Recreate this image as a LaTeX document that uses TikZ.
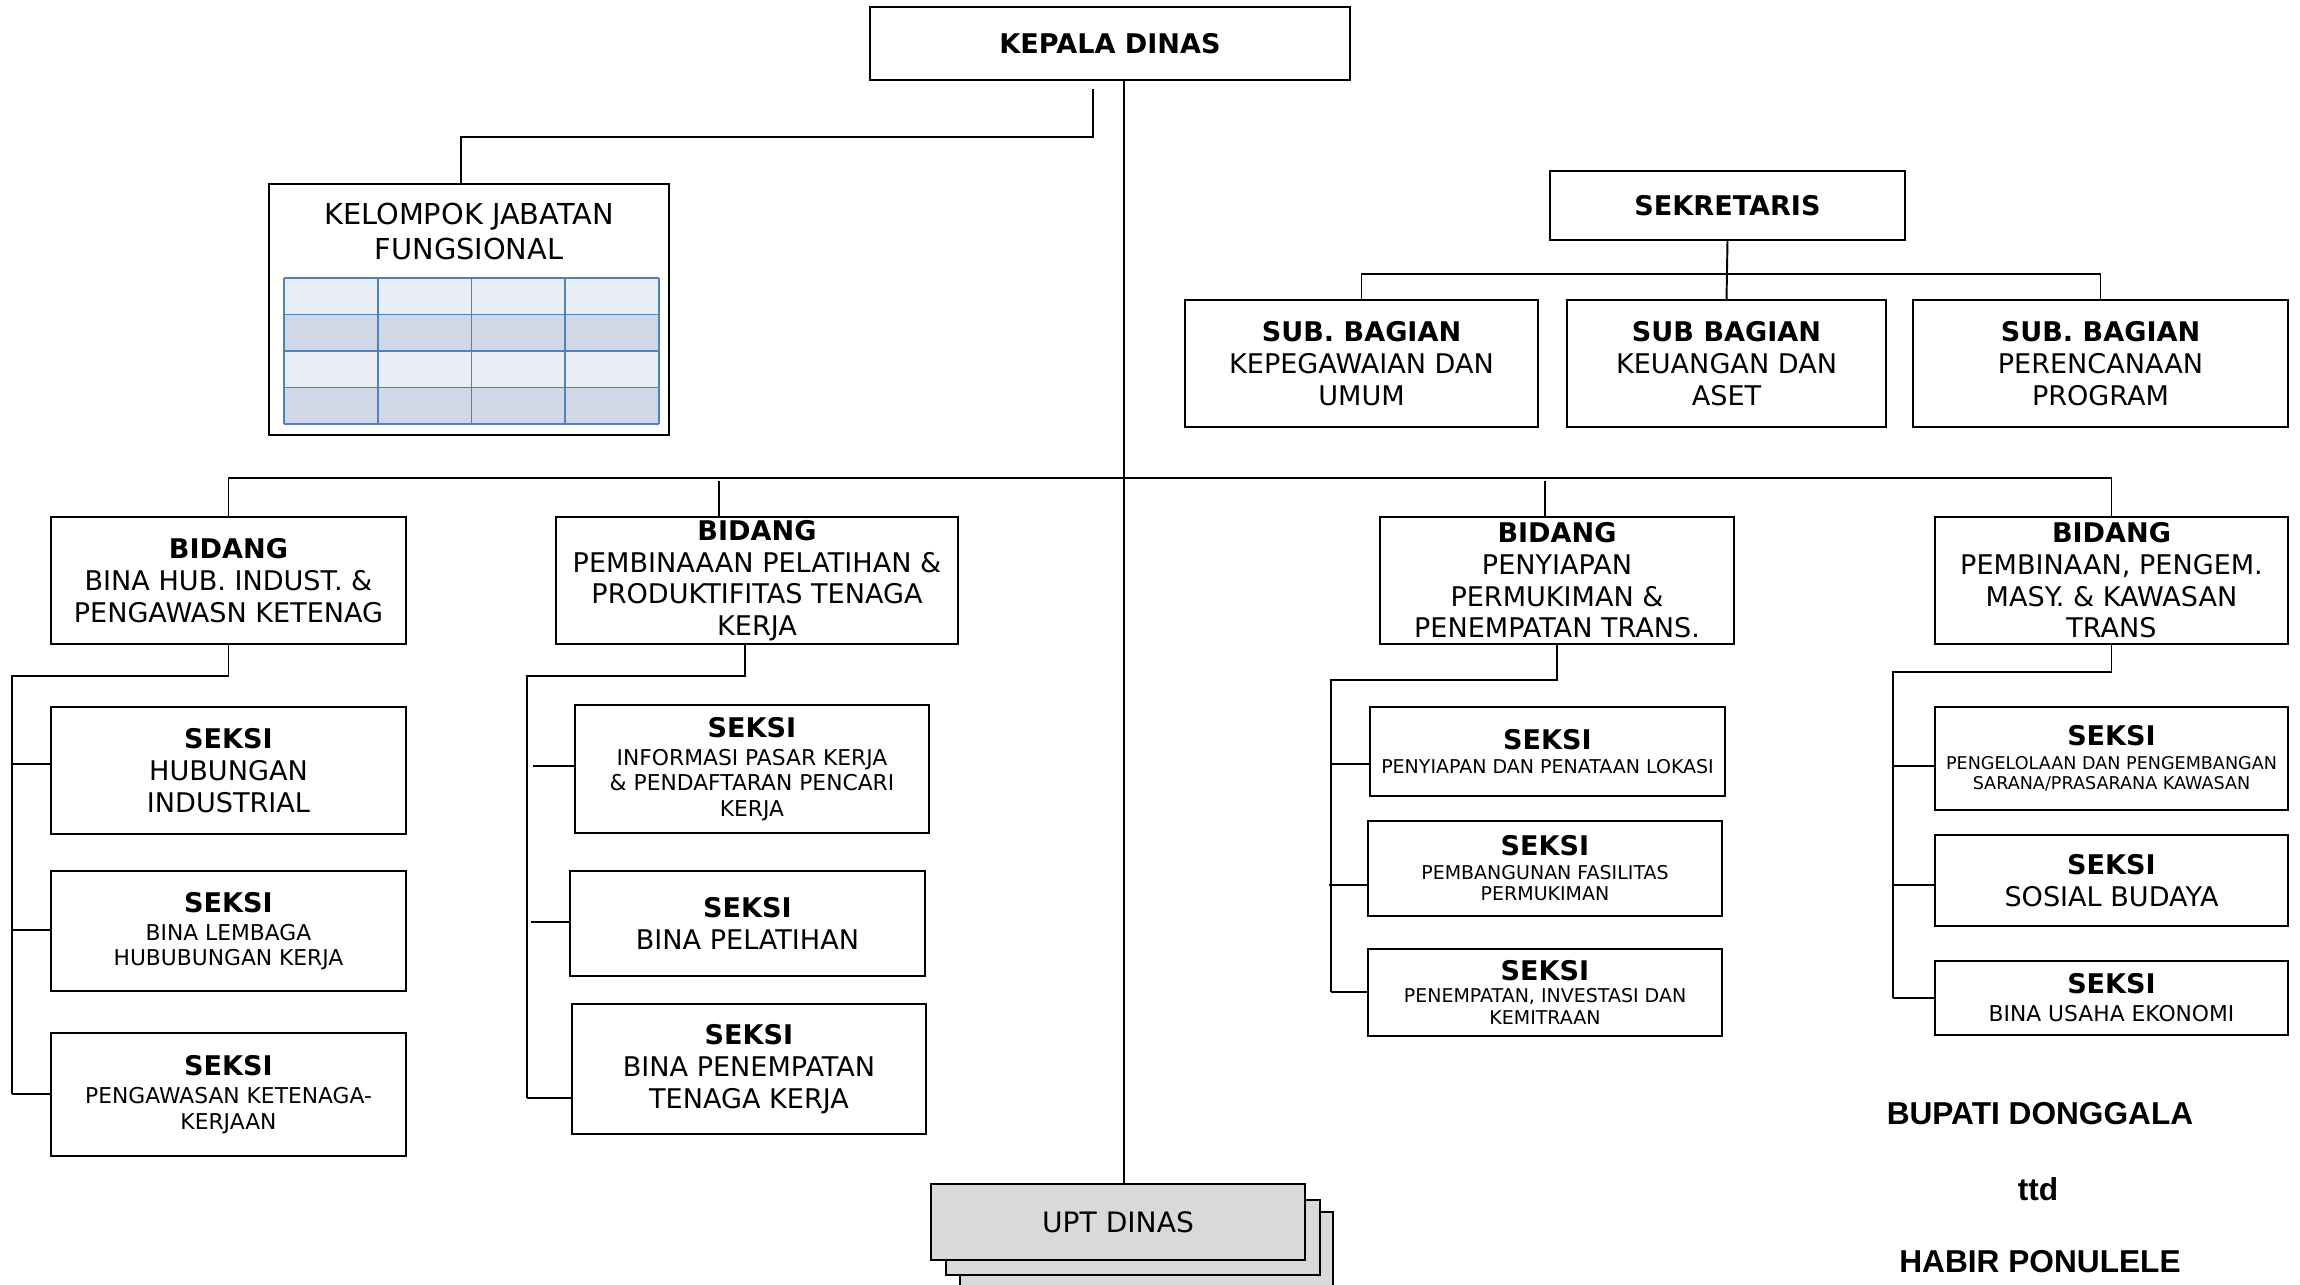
\documentclass[tikz,border=0pt]{standalone}
\usepackage{fontspec}
\setmainfont{DejaVu Sans}
\newfontfamily\myarial{Liberation Sans}
\newcommand\myfN{\fontsize{7.7}{9}\selectfont}
\newcommand\myfS{\fontsize{6.2}{7.2}\selectfont}
\newcommand\myfT{\fontsize{5.4}{6.1}\selectfont}
\newcommand\myfTT{\fontsize{5.0}{5.9}\selectfont}
\definecolor{tabA}{HTML}{E9EDF4}
\definecolor{tabB}{HTML}{D0D8E8}
\definecolor{tabline}{HTML}{4F81BD}
\definecolor{uptgray}{HTML}{D9D9D9}
% #1 options, #2 name, #3 left, #4 top, #5 right, #6 bottom, #7 text
\newcommand\obox[7][]{\node[box,#1,minimum width={(#5-#3)*0.01cm},minimum height={(#6-#4)*0.01cm}] (#2) at ({(#3+#5)/2},{(#4+#6)/2}) {#7};}
\begin{document}
\begin{tikzpicture}[x=0.01cm,y=-0.01cm,
  box/.style={draw, line width=0.7pt, inner sep=0pt, outer sep=0pt, align=center, font=\myfN},
  conn/.style={line width=0.55pt},
  sign/.style={font=\myarial\bfseries\fontsize{9}{11}\selectfont, anchor=base, inner sep=0pt}]
\useasboundingbox (0,0) rectangle (2300,1284);

% ---- top
\obox{kepala}{870}{7}{1350}{80}{\bfseries KEPALA DINAS}

\obox{kjf}{269}{184}{669}{435}{}
\node[font=\fontsize{8.2}{10}\selectfont, align=center, anchor=north, inner sep=0pt] (kjftext) at (469,202) {KELOMPOK JABATAN\\FUNGSIONAL};
% table inside kjf
\foreach \t/\b/\c in {278/314.5/tabA, 314.5/351/tabB, 351/387.5/tabA, 387.5/424/tabB}
  \fill[\c] (284,\t) rectangle (659,\b);
\foreach \yy in {278,314.5,351,387.5,424}
  \draw[tabline, line width=0.55pt] (284,\yy) -- (659,\yy);
\foreach \xx in {284,378,471.5,565,659}
  \draw[tabline, line width=0.55pt] (\xx,278) -- (\xx,424);

\obox{sek}{1550}{171}{1905}{240}{\bfseries SEKRETARIS}
\obox{sub1}{1185}{300}{1538}{427}{\textbf{SUB. BAGIAN}\\KEPEGAWAIAN DAN\\UMUM}
\obox{sub2}{1567}{300}{1886}{427}{\textbf{SUB BAGIAN}\\KEUANGAN DAN\\ASET}
\obox{sub3}{1913}{300}{2288}{427}{\textbf{SUB. BAGIAN}\\PERENCANAAN\\PROGRAM}

% ---- bidang
\obox{bid1}{51}{517}{406}{644}{\textbf{BIDANG}\\BINA HUB. INDUST. \&\\PENGAWASN KETENAG}
\obox{bid2}{556}{517}{958}{644}{\textbf{BIDANG}\\PEMBINAAAN PELATIHAN \&\\PRODUKTIFITAS TENAGA\\KERJA}
\obox{bid3}{1380}{517}{1734}{644}{\textbf{BIDANG}\\PENYIAPAN\\PERMUKIMAN \&\\PENEMPATAN TRANS.}
\obox{bid4}{1935}{517}{2288}{644}{\textbf{BIDANG}\\PEMBINAAN, PENGEM.\\MASY. \& KAWASAN\\TRANS}

% ---- seksi column 1
\obox{s11}{51}{707}{406}{834}{\textbf{SEKSI}\\HUBUNGAN\\INDUSTRIAL}
\obox[font=\myfS]{s12}{51}{871}{406}{991}{{\myfN\bfseries SEKSI}\\[0.8pt]BINA LEMBAGA\\HUBUBUNGAN KERJA}
\obox[font=\myfS]{s13}{51}{1033}{406}{1156}{{\myfN\bfseries SEKSI}\\[0.8pt]PENGAWASAN KETENAGA-\\KERJAAN}
% ---- seksi column 2
\obox[font=\myfS]{s21}{575}{705}{929}{833}{{\myfN\bfseries SEKSI}\\[0.7pt]INFORMASI PASAR KERJA\\\& PENDAFTARAN PENCARI\\KERJA}
\obox{s22}{570}{871}{925}{976}{\textbf{SEKSI}\\BINA PELATIHAN}
\obox{s23}{572}{1004}{926}{1134}{\textbf{SEKSI}\\BINA PENEMPATAN\\TENAGA KERJA}
% ---- seksi column 3
\obox[font=\myfT]{s31}{1370}{707}{1725}{796}{{\myfN\bfseries SEKSI}\\[0.8pt]PENYIAPAN DAN PENATAAN LOKASI}
\obox[font=\myfT]{s32}{1368}{821}{1722}{916}{{\myfN\bfseries SEKSI}\\[0.6pt]PEMBANGUNAN FASILITAS\\PERMUKIMAN}
\obox[font=\myfT]{s33}{1368}{949}{1722}{1036}{{\myfN\bfseries SEKSI}\\[0.2pt]PENEMPATAN, INVESTASI DAN\\KEMITRAAN}
% ---- seksi column 4
\obox[font=\myfTT]{s41}{1935}{707}{2288}{810}{{\myfN\bfseries SEKSI}\\[0.8pt]PENGELOLAAN DAN PENGEMBANGAN\\SARANA/PRASARANA KAWASAN}
\obox{s42}{1935}{835}{2288}{926}{\textbf{SEKSI}\\SOSIAL BUDAYA}
\obox[font=\myfS]{s43}{1935}{961}{2288}{1035}{{\myfN\bfseries SEKSI}\\[0.8pt]BINA USAHA EKONOMI}

% ---- UPT
\draw[fill=uptgray, line width=0.7pt] (960,1212) rectangle (1333,1300);
\draw[fill=uptgray, line width=0.7pt] (946,1200) rectangle (1320,1275);
\obox[fill=uptgray, font=\fontsize{8}{9.5}\selectfont]{upt}{931}{1184}{1305}{1260}{UPT DINAS}

% ---- signature
\node[sign] (bupati) at (2040,1124) {BUPATI DONGGALA};
\node[sign] (ttd) at (2038,1200) {ttd};
\node[sign] (habir) at (2040,1272) {HABIR PONULELE};

% ---- connectors
\coordinate (kjfsrc) at (1093,89);
\draw[conn] (kjfsrc) -- (1093,137) -- (461,137) -- (kjf.north -| 461,0);
\draw[conn] (kepala.south -| 1124,0) -- (upt.north -| 1124,0);

\draw[conn] (sek.south) -- (sub2.north);
\draw[conn] (sub1.north) -- (sub1.north |- 0,274) -- (sub3.north |- 0,274) -- (sub3.north);

\draw[conn] (bid1.north) -- (bid1.north |- 0,478) -- (bid4.north |- 0,478) -- (bid4.north);
\draw[conn] (719,481) -- (bid2.north -| 719,0);
\draw[conn] (1545,481) -- (bid3.north -| 1545,0);

% column 1
\draw[conn] (bid1.south) -- (bid1.south |- 0,676) -- (12,676) -- (12,1094);
\draw[conn] (12,764) -- (s11.west |- 0,764);
\draw[conn] (12,930) -- (s12.west |- 0,930);
\draw[conn] (12,1094) -- (s13.west |- 0,1094);
% column 2
\draw[conn] (bid2.south -| 745,0) -- (745,676) -- (527,676) -- (527,1098);
\draw[conn] (533,766) -- (s21.west |- 0,766);
\draw[conn] (531,922) -- (s22.west |- 0,922);
\draw[conn] (527,1098) -- (s23.west |- 0,1098);
% column 3
\draw[conn] (bid3.south) -- (bid3.south |- 0,680) -- (1331,680) -- (1331,992);
\draw[conn] (1331,764) -- (s31.west |- 0,764);
\draw[conn] (1329,885) -- (s32.west |- 0,885);
\draw[conn] (1331,992) -- (s33.west |- 0,992);
% column 4
\draw[conn] (bid4.south) -- (bid4.south |- 0,672) -- (1893,672) -- (1893,998);
\draw[conn] (1893,766) -- (s41.west |- 0,766);
\draw[conn] (1893,885) -- (s42.west |- 0,885);
\draw[conn] (1893,998) -- (s43.west |- 0,998);
\end{tikzpicture}
\end{document}
